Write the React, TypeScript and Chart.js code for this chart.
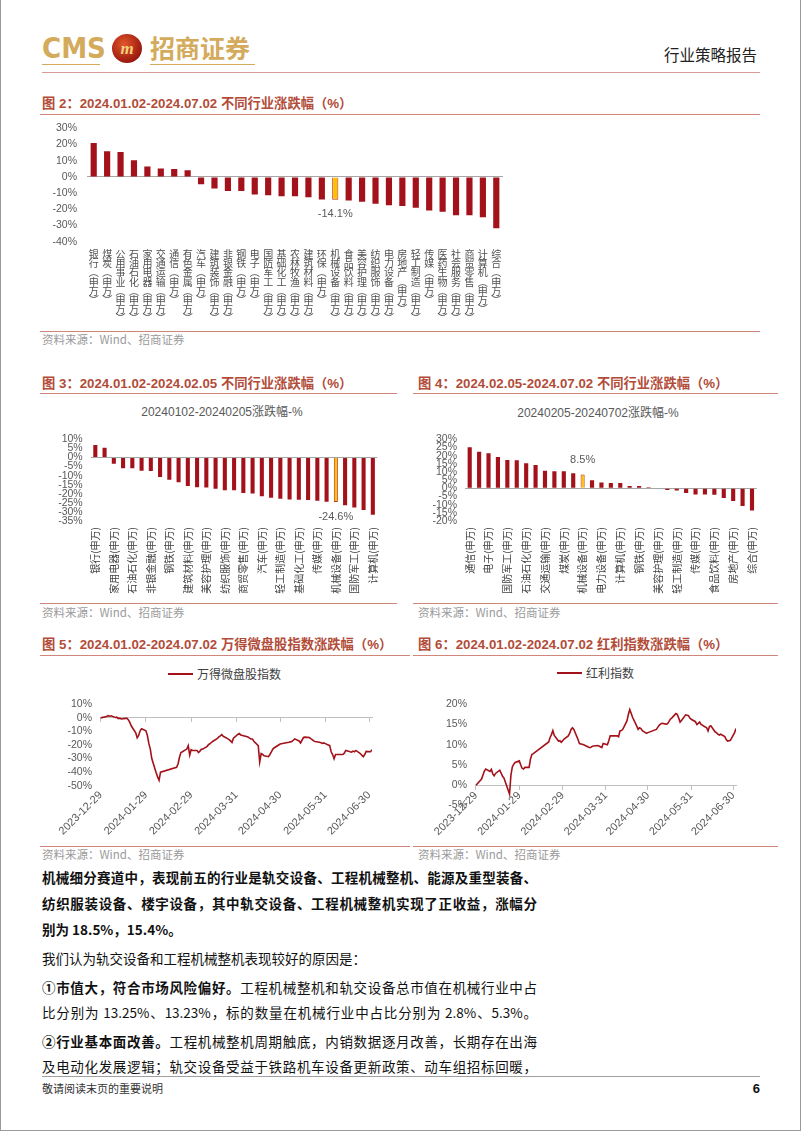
import React, { useEffect, useRef } from 'react';
import { Chart, registerables } from 'chart.js';

Chart.register(...registerables);

// ---------------- data ----------------
const fig2Categories = ['银行(申万)','煤炭(申万)','公用事业(申万)','石油石化(申万)','家用电器(申万)','交通运输(申万)','通信(申万)','有色金属(申万)','汽车(申万)','建筑装饰(申万)','非银金融(申万)','钢铁(申万)','电子(申万)','国防军工(申万)','基础化工(申万)','农林牧渔(申万)','建筑材料(申万)','环保(申万)','机械设备(申万)','食品饮料(申万)','美容护理(申万)','纺织服饰(申万)','电力设备(申万)','房地产(申万)','轻工制造(申万)','传媒(申万)','医药生物(申万)','社会服务(申万)','商贸零售(申万)','计算机(申万)','综合(申万)'];
const fig2Values = [21.0,15.9,15.3,10.3,6.4,5.2,4.9,4.1,-4.5,-7.2,-8.7,-8.7,-10.9,-11.3,-12.0,-12.0,-12.6,-14.0,-14.1,-14.6,-15.3,-16.5,-17.5,-17.9,-19.0,-20.8,-21.5,-23.7,-23.7,-24.9,-31.7];

const fig3Categories = ['银行(申万)','煤炭(申万)','家用电器(申万)','公用事业(申万)','石油石化(申万)','交通运输(申万)','非银金融(申万)','有色金属(申万)','钢铁(申万)','食品饮料(申万)','建筑材料(申万)','通信(申万)','美容护理(申万)','建筑装饰(申万)','纺织服饰(申万)','农林牧渔(申万)','商贸零售(申万)','综合(申万)','汽车(申万)','环保(申万)','轻工制造(申万)','电子(申万)','基础化工(申万)','医药生物(申万)','传媒(申万)','房地产(申万)','机械设备(申万)','社会服务(申万)','国防军工(申万)','电力设备(申万)','计算机(申万)'];
const fig3Values = [6.8,5.3,-3.4,-6.0,-6.0,-7.3,-7.5,-10.7,-12.3,-13.7,-15.7,-16.4,-16.5,-17.3,-18.0,-18.1,-19.6,-19.8,-21.4,-22.2,-22.8,-23.1,-23.3,-23.5,-23.8,-24.4,-24.6,-26.3,-27.6,-29.0,-31.5];

const fig4Categories = ['通信(申万)','银行(申万)','电子(申万)','公用事业(申万)','国防军工(申万)','有色金属(申万)','石油石化(申万)','家用电器(申万)','交通运输(申万)','汽车(申万)','煤炭(申万)','非银金融(申万)','机械设备(申万)','建筑装饰(申万)','电力设备(申万)','基础化工(申万)','计算机(申万)','农林牧渔(申万)','钢铁(申万)','建筑材料(申万)','美容护理(申万)','环保(申万)','轻工制造(申万)','纺织服饰(申万)','传媒(申万)','医药生物(申万)','食品饮料(申万)','社会服务(申万)','房地产(申万)','商贸零售(申万)','综合(申万)'];
const fig4Values = [25.2,22.4,21.4,19.2,17.4,17.2,15.4,14.2,10.8,10.4,10.4,9.2,8.5,5.0,3.6,3.2,3.2,1.4,1.4,0.6,0.3,-1.0,-1.4,-2.8,-3.8,-3.8,-4.0,-6.0,-7.8,-10.8,-13.6];

const highlightCategory = '机械设备(申万)';

const tradeDates = ['12-29',
  '01-02','01-03','01-04','01-05',
  '01-08','01-09','01-10','01-11','01-12',
  '01-15','01-16','01-17','01-18','01-19',
  '01-22','01-23','01-24','01-25','01-26',
  '01-29','01-30','01-31','02-01','02-02',
  '02-05','02-06','02-07','02-08',
  '02-19','02-20','02-21','02-22','02-23',
  '02-26','02-27','02-28','02-29','03-01',
  '03-04','03-05','03-06','03-07','03-08',
  '03-11','03-12','03-13','03-14','03-15',
  '03-18','03-19','03-20','03-21','03-22',
  '03-25','03-26','03-27','03-28','03-29',
  '04-01','04-02','04-03',
  '04-08','04-09','04-10','04-11','04-12',
  '04-15','04-16','04-17','04-18','04-19',
  '04-22','04-23','04-24','04-25','04-26',
  '04-29','04-30',
  '05-06','05-07','05-08','05-09','05-10',
  '05-13','05-14','05-15','05-16','05-17',
  '05-20','05-21','05-22','05-23','05-24',
  '05-27','05-28','05-29','05-30','05-31',
  '06-03','06-04','06-05','06-06','06-07',
  '06-11','06-12','06-13','06-14',
  '06-17','06-18','06-19','06-20','06-21',
  '06-24','06-25','06-26','06-27','06-28',
  '07-01','07-02'];

const microCapValues = [0,
  1.0,1.6,1.2,1.5,
  0.3,0.5,-0.6,-0.2,-0.8,
  -0.4,-0.3,-1.5,-3.5,-6.0,
  -11.0,-14.7,-13.0,-9.5,-8.0,
  -9.5,-13.0,-19.0,-23.0,-30.0,
  -40.5,-43.5,-46.0,-40.0,
  -36.5,-34.0,-29.0,-25.5,-25.0,
  -23.0,-20.5,-27.5,-23.5,-24.0,
  -24.0,-25.6,-24.5,-23.2,-23.0,
  -21.0,-19.6,-19.0,-18.0,-17.2,
  -15.2,-14.0,-13.2,-12.3,-13.6,
  -15.3,-16.0,-17.0,-18.2,-15.0,
  -12.2,-11.6,-12.6,
  -14.0,-15.0,-15.6,-15.6,-17.2,
  -20.5,-32.6,-26.3,-27.0,-28.0,
  -28.6,-27.0,-25.0,-23.0,-22.0,
  -20.0,-19.3,
  -18.0,-17.7,-17.4,-16.5,-15.5,
  -17.0,-18.5,-16.5,-14.5,-14.2,
  -14.5,-15.3,-16.0,-17.0,-17.4,
  -18.0,-18.3,-18.8,-18.5,-19.0,
  -20.5,-25.0,-27.0,-30.2,-27.0,
  -27.0,-27.0,-26.0,-24.0,
  -25.0,-25.3,-24.5,-25.0,-24.0,
  -26.3,-27.5,-28.6,-27.0,-24.7,
  -25.0,-23.5];

const dividendValues = [0,
  1.5,2.5,3.5,4.0,
  3.4,3.9,2.8,2.3,2.9,
  3.7,3.0,2.2,1.8,0.8,
  -2.2,2.5,4.5,5.2,5.6,
  6.0,5.0,4.2,4.0,4.4,
  4.4,6.5,7.6,7.8,
  10.7,11.8,12.5,13.5,12.3,
  10.9,11.0,10.6,11.0,11.4,
  12.2,12.8,13.8,14.2,13.8,
  11.3,10.3,10.2,10.1,10.0,
  9.5,9.3,9.3,9.6,9.7,
  9.8,9.7,9.5,9.3,10.3,
  10.0,11.0,12.2,
  12.2,12.0,13.4,13.5,13.8,
  15.9,17.5,18.7,17.8,16.8,
  14.6,13.8,14.2,14.0,13.5,
  12.8,13.0,
  13.8,14.3,14.8,15.1,15.3,
  15.1,15.2,15.7,16.3,16.6,
  17.7,17.5,16.6,15.6,16.0,
  17.4,17.3,17.2,16.6,16.3,
  15.7,15.0,15.3,15.6,15.0,
  14.2,13.4,14.5,14.7,
  13.2,13.0,12.6,12.4,12.6,
  12.0,11.3,10.9,11.0,11.1,
  13.0,14.0];

const axisDates = ['2023-12-29','2024-01-29','2024-02-29','2024-03-31','2024-04-30','2024-05-31','2024-06-30'];

// ---------------- styles ----------------
const BAR_RED = '#a3121a';
const LINE_RED = '#a3121a';
const HI_FILL = '#ffc000';
const HI_BORDER = '#c0391b';
const TICK_GRAY = '#595959';
const AXIS_GRAY = '#bfbfbf';
const TICK_FAMILY = '"Liberation Sans", Arial, "Noto Sans CJK SC", sans-serif';
const CJK = '"Noto Sans CJK SC", "Liberation Sans", sans-serif';
const TITLE_RED = '#b24c39';
const RULE_RED = '#d0867a';

const BASE_DAY = Date.UTC(2023, 11, 29);
function dayOf(s: string): number {
  const full = s.length === 5 ? (s.startsWith('12') ? '2023-' : '2024-') + s : s;
  const [y, m, d] = full.split('-').map(Number);
  return Math.round((Date.UTC(y, m - 1, d) - BASE_DAY) / 86400000);
}

function stackGlyphs(label: string): string[] {
  return Array.from(label).map((ch) => (ch === '(' ? '︵' : ch === ')' ? '︶' : ch));
}

const highlightLabel = {
  id: 'highlightLabel',
  afterDatasetsDraw(chart: any, _args: any, opts: any) {
    if (!opts || opts.index == null || opts.index < 0) return;
    const el = chart.getDatasetMeta(0).data[opts.index];
    const v = chart.data.datasets[0].data[opts.index] as number;
    if (!el) return;
    const ctx = chart.ctx;
    ctx.save();
    ctx.font = `${opts.size || 11}px ${TICK_FAMILY}`;
    ctx.fillStyle = TICK_GRAY;
    ctx.textAlign = 'center';
    ctx.textBaseline = 'middle';
    const y = v < 0 ? el.y + opts.offset : el.y - opts.offset;
    ctx.fillText(v.toFixed(1) + '%', el.x, y);
    ctx.restore();
  },
};

type Box = { left: number; top: number; width: number; height: number };
type Area = { left: number; top: number; right: number; bottom: number };

function BarChart(props: {
  labels: string[]; values: number[]; highlight: string;
  yMin: number; yMax: number; yStep: number;
  box: Box; area: Area; barPct: number;
  mode: 'stacked' | 'rotated'; labelSize: number; labelPad: number; yPad: number;
  valueOffset: number;
}) {
  const ref = useRef<HTMLCanvasElement>(null);
  useEffect(() => {
    const { box, area, labels, values, highlight } = props;
    const yWidth = area.left - box.left;
    const xHeight = box.top + box.height - area.bottom;
    const hiIndex = labels.indexOf(highlight);
    const chart = new Chart(ref.current as HTMLCanvasElement, {
      type: 'bar',
      data: {
        labels,
        datasets: [{
          data: values,
          backgroundColor: labels.map((l) => (l === highlight ? HI_FILL : BAR_RED)),
          borderColor: labels.map((l) => (l === highlight ? HI_BORDER : BAR_RED)),
          borderWidth: labels.map((l) => (l === highlight ? 1 : 0)),
          barPercentage: props.barPct,
          categoryPercentage: 1,
        }],
      },
      options: {
        responsive: false,
        animation: false,
        devicePixelRatio: 1,
        layout: { padding: { left: 0, top: area.top - box.top, right: box.left + box.width - area.right, bottom: 0 } },
        plugins: {
          legend: { display: false },
          tooltip: { enabled: false },
          highlightLabel: { index: hiIndex, offset: props.valueOffset, size: 11 },
        } as any,
        scales: {
          x: {
            grid: { display: false, drawTicks: false },
            border: { display: false },
            ticks: {
              autoSkip: false,
              minRotation: props.mode === 'rotated' ? 90 : 0,
              maxRotation: props.mode === 'rotated' ? 90 : 0,
              padding: props.labelPad,
              color: props.mode === 'stacked' ? '#505050' : '#404040',
              font: { family: CJK, size: props.labelSize, lineHeight: props.mode === 'stacked' ? 0.92 : 1.1 },
              callback: (_v: any, i: number) => {
                if (props.mode === 'stacked') return stackGlyphs(labels[i]);
                return i % 2 === 0 ? labels[i] : '';
              },
            },
            afterFit: (s: any) => { s.height = xHeight; },
          },
          y: {
            min: props.yMin,
            max: props.yMax,
            grid: {
              drawTicks: false,
              color: (c: any) => (c.tick && c.tick.value === 0 ? '#a6a6a6' : 'rgba(0,0,0,0)'),
            },
            border: { display: false },
            ticks: {
              autoSkip: false,
              stepSize: props.yStep,
              padding: props.yPad,
              color: TICK_GRAY,
              font: { family: TICK_FAMILY, size: 10.5 },
              callback: (v: any) => `${v}%`,
            },
            afterFit: (s: any) => { s.width = yWidth; },
          },
        },
      },
      plugins: [highlightLabel as any],
    });
    return () => chart.destroy();
  }, []);
  const { box } = props;
  return (
    <canvas ref={ref} width={box.width} height={box.height}
      style={{ position: 'absolute', left: box.left, top: box.top, width: box.width, height: box.height }} />
  );
}

function LineChart(props: {
  dates: string[]; values: number[];
  yMin: number; yMax: number; yStep: number;
  box: Box; area: Area; xMin: number; xMax: number;
  axisAtZero: boolean;
}) {
  const ref = useRef<HTMLCanvasElement>(null);
  useEffect(() => {
    const { box, area } = props;
    const yWidth = area.left - box.left;
    const bottomSpace = box.top + box.height - area.bottom;
    const points = props.dates.map((d, i) => ({ x: dayOf(d), y: props.values[i] }));
    const tickDays = axisDates.map(dayOf);
    const setTicks = (s: any) => { s.ticks = tickDays.map((v) => ({ value: v })); };
    const labelTicks = {
      autoSkip: false,
      minRotation: 45,
      maxRotation: 45,
      color: TICK_GRAY,
      font: { family: TICK_FAMILY, size: 11 },
      callback: (_v: any, i: number) => axisDates[i],
    };
    const scales: any = {
      y: {
        min: props.yMin,
        max: props.yMax,
        grid: { display: false, drawTicks: false },
        border: { display: false },
        ticks: {
          autoSkip: false,
          stepSize: props.yStep,
          padding: 8,
          color: TICK_GRAY,
          font: { family: TICK_FAMILY, size: 10.5 },
          callback: (v: any) => `${v}%`,
        },
        afterFit: (s: any) => { s.width = yWidth; },
      },
    };
    if (props.axisAtZero) {
      scales.x = {
        type: 'linear',
        position: { y: 0 },
        min: props.xMin,
        max: props.xMax,
        afterBuildTicks: setTicks,
        ticks: { ...labelTicks, padding: 0 },
        grid: { drawOnChartArea: false, drawTicks: true, tickLength: 4, color: AXIS_GRAY },
        border: { display: true, color: AXIS_GRAY },
      };
    } else {
      scales.x = {
        type: 'linear',
        position: 'bottom',
        min: props.xMin,
        max: props.xMax,
        afterBuildTicks: setTicks,
        ticks: { ...labelTicks, padding: 3 },
        grid: { display: false, drawTicks: false },
        border: { display: false },
        afterFit: (s: any) => { s.height = bottomSpace; },
      };
      scales.x2 = {
        type: 'linear',
        position: { y: 0 },
        min: props.xMin,
        max: props.xMax,
        afterBuildTicks: setTicks,
        ticks: { display: false },
        grid: { drawOnChartArea: false, drawTicks: true, tickLength: 4, color: AXIS_GRAY },
        border: { display: true, color: AXIS_GRAY },
      };
    }
    const chart = new Chart(ref.current as HTMLCanvasElement, {
      type: 'line',
      data: {
        datasets: [{
          data: points,
          borderColor: LINE_RED,
          borderWidth: 1.6,
          pointRadius: 0,
          tension: 0,
          fill: false,
        }],
      },
      options: {
        responsive: false,
        animation: false,
        devicePixelRatio: 1,
        layout: {
          padding: {
            left: 0,
            top: area.top - box.top,
            right: box.left + box.width - area.right,
            bottom: props.axisAtZero ? bottomSpace : 0,
          },
        },
        plugins: { legend: { display: false }, tooltip: { enabled: false } },
        scales,
      },
    });
    return () => chart.destroy();
  }, []);
  const { box } = props;
  return (
    <canvas ref={ref} width={box.width} height={box.height}
      style={{ position: 'absolute', left: box.left, top: box.top, width: box.width, height: box.height }} />
  );
}

// ---------------- page helpers ----------------
function Txt(props: { x: number; cy: number; size: number; children: any; color?: string; weight?: number | string; family?: string; align?: 'left' | 'right' | 'center'; width?: number; style?: any }) {
  const w = props.width ?? 600;
  let left = props.x;
  if (props.align === 'right') left = props.x - w;
  if (props.align === 'center') left = props.x - w / 2;
  return (
    <div style={{
      position: 'absolute', left, top: props.cy - props.size * 0.7, width: w,
      height: props.size * 1.4, lineHeight: `${props.size * 1.4}px`, fontSize: props.size,
      color: props.color ?? '#000', fontWeight: props.weight ?? 400,
      fontFamily: props.family ?? CJK, textAlign: props.align ?? 'left', whiteSpace: 'nowrap',
      ...(props.style || {}),
    }}>{props.children}</div>
  );
}

function HLine(props: { x1: number; x2: number; y: number; color: string; h?: number }) {
  return <div style={{ position: 'absolute', left: props.x1, top: props.y, width: props.x2 - props.x1, height: props.h ?? 1, background: props.color }} />;
}

function Title(props: { x: number; cy: number; children: any }) {
  return <Txt x={props.x} cy={props.cy} size={13.3} weight={700} color={TITLE_RED} family={'"Liberation Sans", Arial, "Noto Sans CJK SC", sans-serif'}>{props.children}</Txt>;
}

function Source(props: { x: number; cy: number }) {
  return <Txt x={props.x} cy={props.cy} size={11.5} color="#9a9a9a">资料来源：Wind、招商证券</Txt>;
}

function Legend(props: { x1: number; x2: number; cy: number; text: string }) {
  return (
    <>
      <HLine x1={props.x1} x2={props.x2} y={props.cy - 1} color={LINE_RED} h={2} />
      <Txt x={props.x2 + 4} cy={props.cy} size={12} color="#404040">{props.text}</Txt>
    </>
  );
}

function BodyLine(props: { cy: number; justify?: boolean; children: any; weight?: number }) {
  return (
    <div style={{
      position: 'absolute', left: 42, top: props.cy - 10, width: 495, height: 20, lineHeight: '20px',
      fontSize: 13.5, fontFamily: CJK, color: '#111', fontWeight: props.weight ?? 400,
      textAlign: props.justify ? 'justify' : 'left', textAlignLast: props.justify ? 'justify' : 'left',
      overflow: 'visible',
    } as any}>{props.children}</div>
  );
}

export default function App() {
  const GOLD = '#d4aa5c';
  return (
    <div style={{ position: 'absolute', left: 0, top: 0, width: 802, height: 1133, background: '#fff', overflow: 'hidden' }}>
      {/* page frame */}
      <div style={{ position: 'absolute', left: 0, top: 0, width: 1, height: 1131, background: '#9a9a9a' }} />
      <div style={{ position: 'absolute', left: 800, top: 0, width: 1, height: 1131, background: '#9a9a9a' }} />
      <div style={{ position: 'absolute', left: 0, top: 1130, width: 801, height: 1, background: '#9a9a9a' }} />

      {/* header */}
      <Txt x={42} cy={48} size={29} color={GOLD} weight={700} family={'"Liberation Sans Narrow", "DejaVu Sans Condensed", "Liberation Sans", sans-serif'}>CMS</Txt>
      <div style={{
        position: 'absolute', left: 112, top: 34, width: 30, height: 29, borderRadius: '50%',
        background: 'radial-gradient(circle at 40% 35%, #e2562a, #9c1a10 70%, #7a120a)',
        color: '#f3d27a', fontSize: 17, fontWeight: 700, fontStyle: 'italic', lineHeight: '29px', textAlign: 'center',
        fontFamily: '"Liberation Serif", serif',
      }}>m</div>
      <Txt x={150} cy={47} size={25} color={GOLD} weight={700}>招商证券</Txt>
      <HLine x1={42} x2={100} y={64} color={GOLD} />
      <HLine x1={150} x2={255} y={64} color={GOLD} />
      <Txt x={757} cy={55} size={15.5} color="#222" align="right" width={200}>行业策略报告</Txt>
      <HLine x1={42} x2={760} y={72} color="#d99a9a" />

      {/* figure 2 */}
      <Title x={42} cy={104}>图 2：2024.01.02-2024.07.02 不同行业涨跌幅（%）</Title>
      <HLine x1={40} x2={760} y={114} color={RULE_RED} />
      <BarChart labels={fig2Categories} values={fig2Values} highlight={highlightCategory}
        yMin={-40} yMax={30} yStep={10}
        box={{ left: 40, top: 112, width: 475, height: 216 }}
        area={{ left: 87, top: 121.7, right: 503, bottom: 241.7 }}
        barPct={0.46} mode="stacked" labelSize={10} labelPad={8} yPad={10} valueOffset={14} />
      <HLine x1={40} x2={760} y={331} color={RULE_RED} />
      <Source x={42} cy={339} />

      {/* figure 3 */}
      <Title x={42} cy={384}>图 3：2024.01.02-2024.02.05 不同行业涨跌幅（%）</Title>
      <HLine x1={40} x2={397} y={393} color={RULE_RED} />
      <Txt x={222} cy={412} size={12} color={TICK_GRAY} align="center" width={300} family={TICK_FAMILY}>20240102-20240205涨跌幅-%</Txt>
      <BarChart labels={fig3Categories} values={fig3Values} highlight={highlightCategory}
        yMin={-35} yMax={10} yStep={5}
        box={{ left: 40, top: 425, width: 350, height: 175 }}
        area={{ left: 90.7, top: 436.7, right: 380, bottom: 521 }}
        barPct={0.44} mode="rotated" labelSize={10} labelPad={6} yPad={8} valueOffset={15} />
      <HLine x1={40} x2={397} y={603} color={RULE_RED} />
      <Source x={42} cy={612} />

      {/* figure 4 */}
      <Title x={418} cy={384}>图 4：2024.02.05-2024.07.02 不同行业涨跌幅（%）</Title>
      <HLine x1={413} x2={778} y={393} color={RULE_RED} />
      <Txt x={598} cy={413} size={12} color={TICK_GRAY} align="center" width={300} family={TICK_FAMILY}>20240205-20240702涨跌幅-%</Txt>
      <BarChart labels={fig4Categories} values={fig4Values} highlight={highlightCategory}
        yMin={-20} yMax={30} yStep={5}
        box={{ left: 410, top: 425, width: 360, height: 175 }}
        area={{ left: 465, top: 437.7, right: 756.7, bottom: 521 }}
        barPct={0.44} mode="rotated" labelSize={10} labelPad={6} yPad={8} valueOffset={14} />
      <HLine x1={413} x2={778} y={603} color={RULE_RED} />
      <Source x={418} cy={612} />

      {/* figure 5 */}
      <Title x={42} cy={645}>图 5：2024.01.02-2024.07.02 万得微盘股指数涨跌幅（%）</Title>
      <HLine x1={40} x2={410} y={655} color={RULE_RED} />
      <Legend x1={168} x2={193} cy={674} text="万得微盘股指数" />
      <LineChart dates={tradeDates} values={microCapValues}
        yMin={-50} yMax={10} yStep={10}
        box={{ left: 40, top: 690, width: 345, height: 150 }}
        area={{ left: 100, top: 700, right: 372, bottom: 785.7 }}
        xMin={-0.5} xMax={186} axisAtZero={false} />
      <HLine x1={40} x2={410} y={846} color={RULE_RED} />
      <Source x={42} cy={854} />

      {/* figure 6 */}
      <Title x={418} cy={645}>图 6：2024.01.02-2024.07.02 红利指数涨跌幅（%）</Title>
      <HLine x1={413} x2={778} y={655} color={RULE_RED} />
      <Legend x1={557} x2={582} cy={673} text="红利指数" />
      <LineChart dates={tradeDates} values={dividendValues}
        yMin={-5} yMax={20} yStep={5}
        box={{ left: 410, top: 690, width: 345, height: 150 }}
        area={{ left: 475, top: 698.3, right: 736, bottom: 805.4 }}
        xMin={-0.7} xMax={186} axisAtZero={true} />
      <HLine x1={413} x2={778} y={846} color={RULE_RED} />
      <Source x={418} cy={854} />

      {/* body text */}
      <BodyLine cy={877} justify weight={700}>机械细分赛道中，表现前五的行业是轨交设备、工程机械整机、能源及重型装备、</BodyLine>
      <BodyLine cy={903} justify weight={700}>纺织服装设备、楼宇设备，其中轨交设备、工程机械整机实现了正收益，涨幅分</BodyLine>
      <BodyLine cy={929} weight={700}>别为 18.5%，15.4%。</BodyLine>
      <BodyLine cy={958}>我们认为轨交设备和工程机械整机表现较好的原因是：</BodyLine>
      <BodyLine cy={987} justify><b>①市值大，符合市场风险偏好。</b>工程机械整机和轨交设备总市值在机械行业中占</BodyLine>
      <BodyLine cy={1012} justify>比分别为 13.25%、13.23%，标的数量在机械行业中占比分别为 2.8%、5.3%。</BodyLine>
      <BodyLine cy={1041} justify><b>②行业基本面改善。</b>工程机械整机周期触底，内销数据逐月改善，长期存在出海</BodyLine>
      <BodyLine cy={1066} justify>及电动化发展逻辑；轨交设备受益于铁路机车设备更新政策、动车组招标回暖，</BodyLine>

      {/* footer */}
      <HLine x1={42} x2={760} y={1076} color="#a0a0a0" />
      <Txt x={42} cy={1089} size={11} color="#333">敬请阅读末页的重要说明</Txt>
      <Txt x={760} cy={1089} size={13} weight={700} color="#111" align="right" width={40} family={TICK_FAMILY}>6</Txt>
    </div>
  );
}
